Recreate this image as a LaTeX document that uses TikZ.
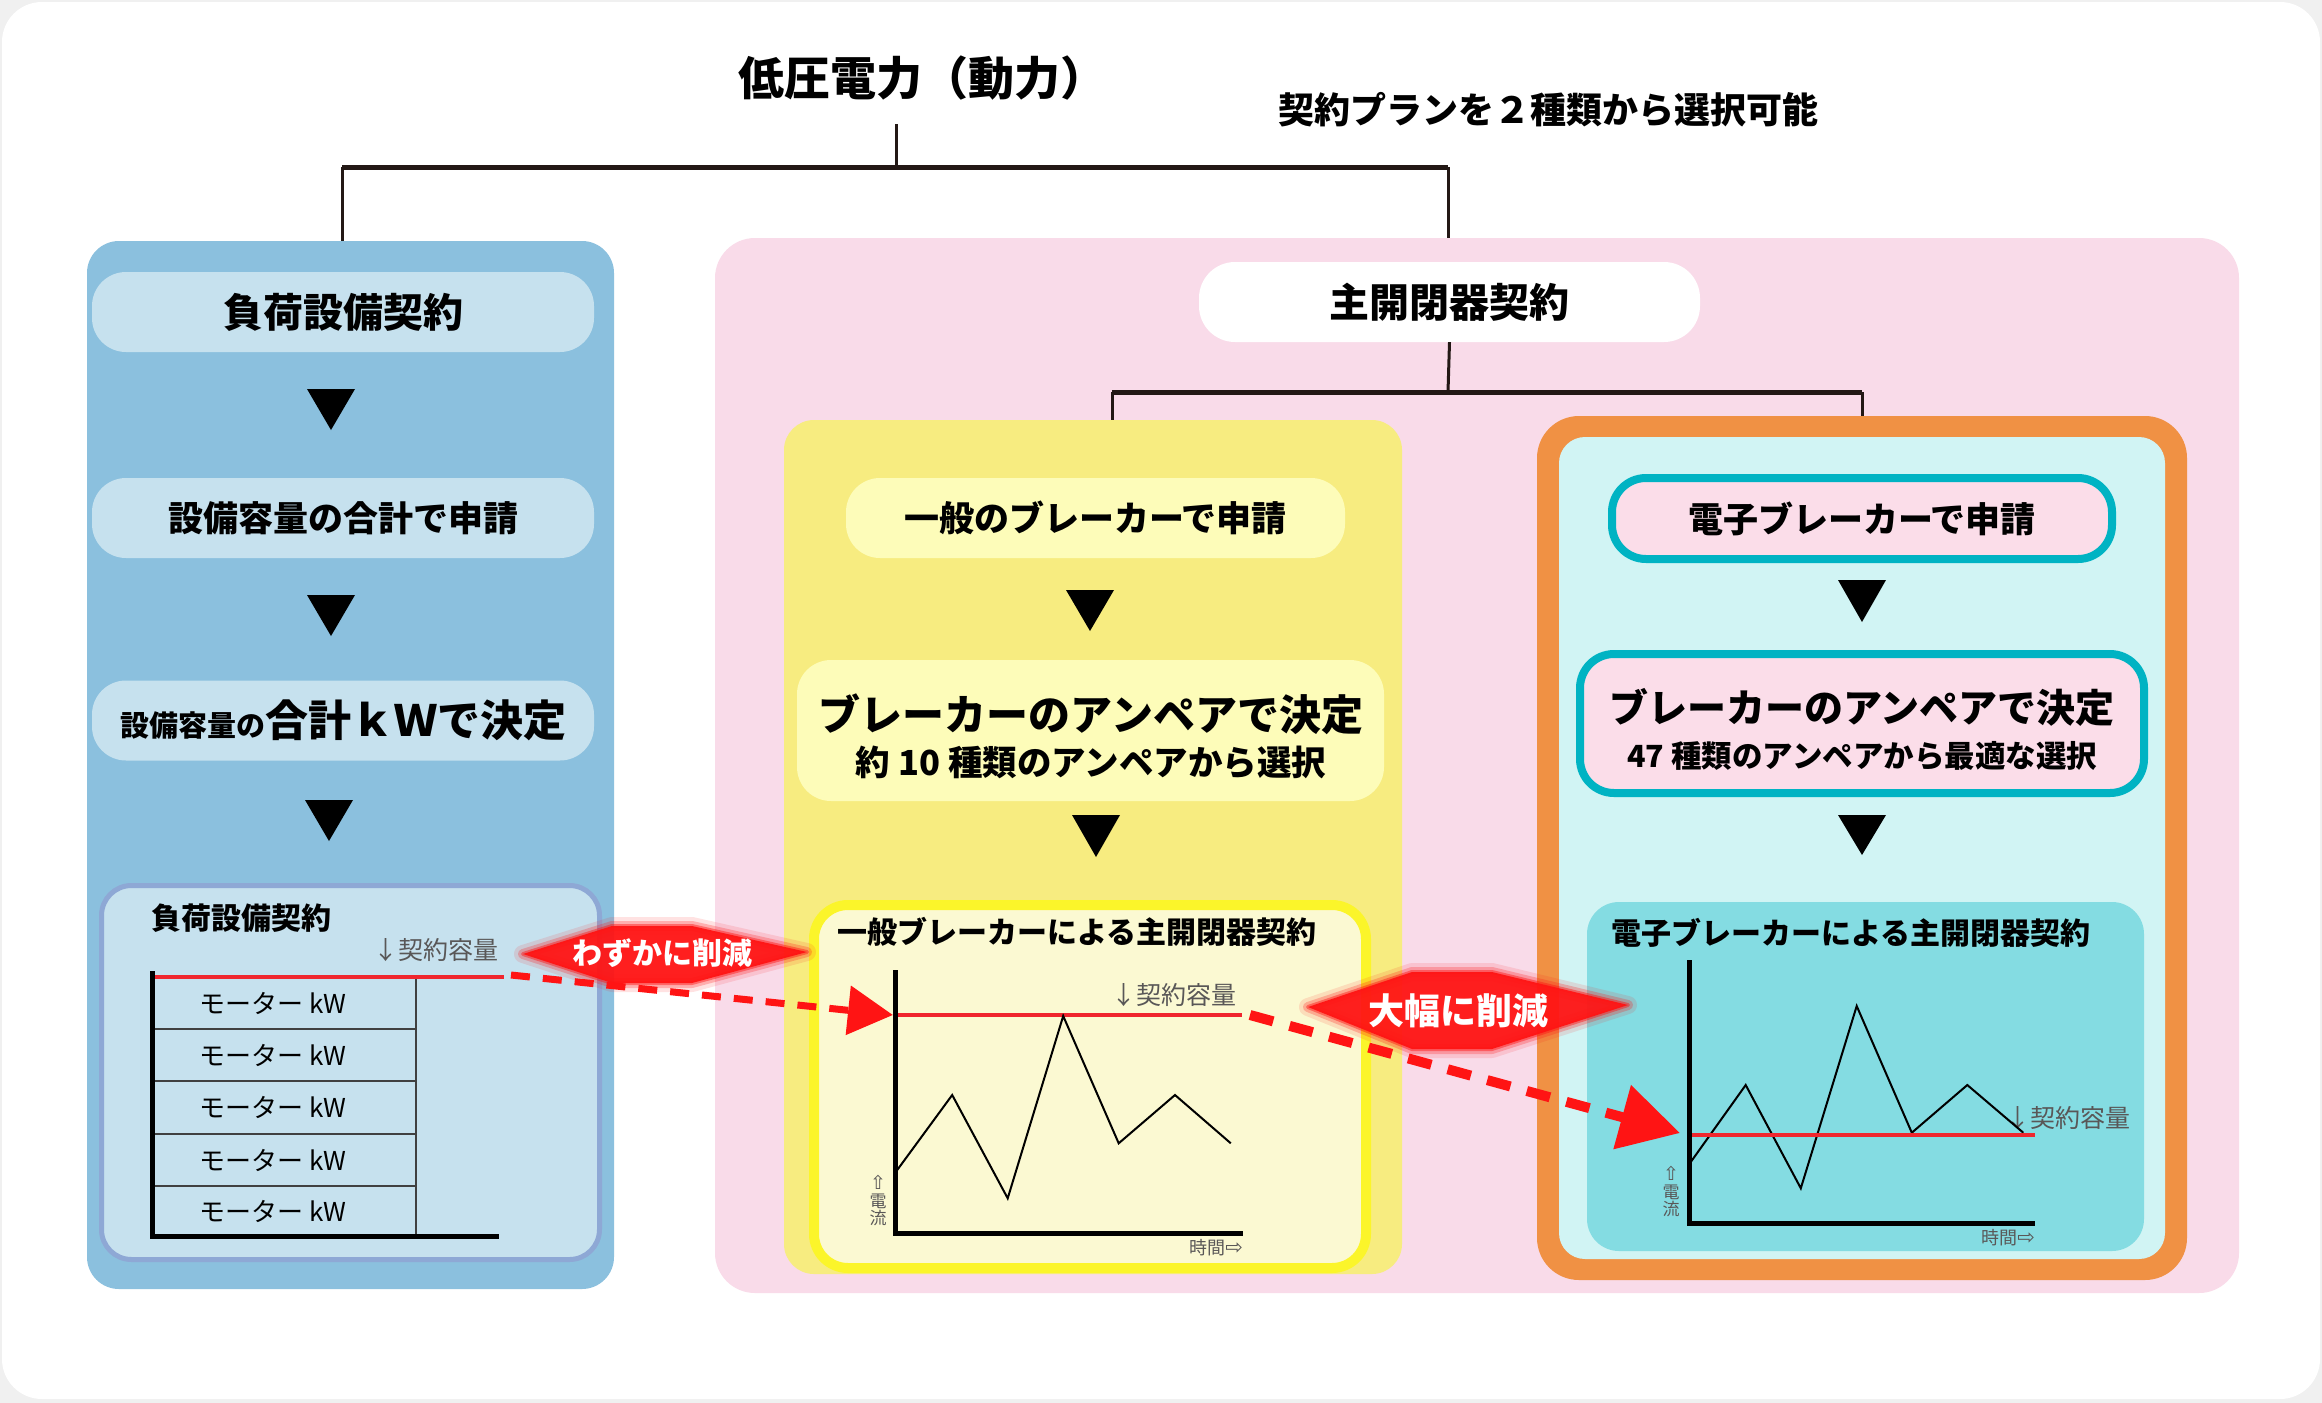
\documentclass[tikz,border=0pt]{standalone}
\usepackage{fontspec}
\setmainfont{Noto Sans CJK JP}
\newfontfamily\dvs{DejaVu Sans}
\usetikzlibrary{arrows.meta,calc}
\definecolor{treec}{HTML}{231815}
\definecolor{bluep}{HTML}{8BC0DE}
\definecolor{blueb}{HTML}{C6E1EE}
\definecolor{bluebd}{HTML}{8EA8D5}
\definecolor{pinkp}{HTML}{F9DBE9}
\definecolor{yelp}{HTML}{F7EC80}
\definecolor{yelb}{HTML}{FDFCB9}
\definecolor{yelbd}{HTML}{FBF52A}
\definecolor{yelc}{HTML}{FBF9D2}
\definecolor{orp}{HTML}{F09144}
\definecolor{cyp}{HTML}{D1F4F4}
\definecolor{tealbd}{HTML}{00B3C3}
\definecolor{pinkb}{HTML}{FBDDE9}
\definecolor{tealc}{HTML}{84DCE2}
\definecolor{redl}{HTML}{F0262E}
\definecolor{reda}{HTML}{FF1414}
\definecolor{grayt}{HTML}{595757}
\newcommand\myfs[1]{\fontsize{#1}{#1}\selectfont}
\begin{document}
\begin{tikzpicture}[x=1pt,y=-1pt,
  panel/.style={rectangle, inner sep=0pt, outer sep=0pt},
  box/.style={rectangle, inner sep=0pt, rounded corners=34pt, align=center},
  txt/.style={inner sep=0pt, outer sep=0pt},
  tline/.style={line width=3pt, draw=treec},
  tbar/.style={line width=5pt, draw=treec},
  capline/.style={line width=4pt, draw=redl},
  axisline/.style={line width=5pt, draw=black},
  zig/.style={line width=2pt, draw=black},
  tbl/.style={line width=1.5pt, draw=black!75},
  small/.style={txt, text=grayt, font=\myfs{25}},
  motor/.style={txt, font=\myfs{26}},
  ctitle/.style={txt, anchor=west, font=\bfseries\myfs{30}},
  hexA/.style={insert path={(523,954) -- (612,926) -- (692,926) -- (807,952) -- (692,983) -- (612,983) -- cycle}},
  hexB/.style={insert path={(1308,1007) -- (1412,972) -- (1492,972) -- (1628,1005) -- (1492,1049) -- (1412,1049) -- cycle}},
]
\useasboundingbox (0,0) rectangle (2322,1403);
\fill[black!6] (0,0) rectangle (2322,1403);
\fill[white, rounded corners=40pt] (2,2) rectangle (2320,1399);

% ---------- title and top tree
\node[txt, font=\bfseries\myfs{46}] (title) at (922,78) {低圧電力（動力）};
\node[txt, font=\bfseries\myfs{36}] (sub) at (1548,110) {契約プランを２種類から選択可能};
\coordinate (t0) at (896,124);
\coordinate (tj) at (896,167);
\coordinate (tl) at (342,167);
\coordinate (tr) at (1448,167);

% ---------- panels
\node[panel, fill=bluep, rounded corners=32pt, minimum width=527pt, minimum height=1048pt] (bluepanel) at (350.5,765) {};
\node[panel, fill=pinkp, rounded corners=40pt, minimum width=1524pt, minimum height=1055pt] (pinkpanel) at (1477,765.5) {};

\draw[tline] (t0) -- (tj);
\draw[tbar] (tl) -- (tr);
\draw[tline] (tl) -- (bluepanel.north -| tl);
\draw[tline] (tr) -- (pinkpanel.north -| tr);

% ---------- blue column
\node[box, fill=blueb, minimum width=502pt, minimum height=80pt, font=\bfseries\myfs{40}] (b1) at (343,312) {負荷設備契約};
\fill (307,389) -- (355,389) -- (331,430) -- cycle;
\node[box, fill=blueb, minimum width=502pt, minimum height=80pt, font=\bfseries\myfs{35}] (b2) at (343,518) {設備容量の合計で申請};
\fill (307,595) -- (355,595) -- (331,636) -- cycle;
\node[box, fill=blueb, minimum width=502pt, minimum height=80pt] (b3) at (343,720.5) {{\bfseries\myfs{29}設備容量の}{\bfseries\myfs{43}合計ｋＷで決定}};
\fill (305,800) -- (353,800) -- (329,841) -- cycle;

\node[panel, fill=blueb, draw=bluebd, line width=5pt, rounded corners=30pt, minimum width=498pt, minimum height=374pt] (bchart) at (350.5,1072.5) {};
\node[ctitle] (bct) at (151,918) {負荷設備契約};
\node[small, anchor=east] (bcap) at (498,950) {↓契約容量};
\coordinate (bA) at (152,977);
\coordinate (bB) at (504,977);
\draw[tbl] (416,977) -- (416,1236);
\foreach \yy in {1029,1081,1134,1186} \draw[tbl] (152,\yy) -- (416,\yy);
\draw[capline] (bA) -- (bB);
\draw[axisline] (152,971) -- (152,1236) -- (499,1236);
\node[motor] (m1) at (273,1003) {モーター kW};
\node[motor] (m2) at (273,1055) {モーター kW};
\node[motor] (m3) at (273,1107) {モーター kW};
\node[motor] (m4) at (273,1160) {モーター kW};
\node[motor] (m5) at (273,1211) {モーター kW};

% ---------- main switch
\node[box, fill=white, rounded corners=36pt, minimum width=501pt, minimum height=80pt, font=\bfseries\myfs{40}] (msw) at (1449.5,302) {主開閉器契約};
\coordinate (sj) at (1448,392);
\coordinate (sl) at (1112,392);
\coordinate (sr) at (1862,392);

% ---------- yellow column
\node[panel, fill=yelp, rounded corners=30pt, minimum width=618pt, minimum height=854pt] (yelpanel) at (1093,847) {};
\node[box, fill=yelb, minimum width=499pt, minimum height=80pt, font=\bfseries\myfs{35}] (y1) at (1095.5,518) {一般のブレーカーで申請};
\fill (1066,590) -- (1114,590) -- (1090,631) -- cycle;
\node[box, fill=yelb, minimum width=587pt, minimum height=141pt] (y2) at (1090.5,730.5) {};
\node[txt, font=\bfseries\myfs{42}] (y2a) at (1091,714) {ブレーカーのアンペアで決定};
\node[txt, font=\bfseries\myfs{34.5}] (y2b) at (1091,762) {約 10 種類のアンペアから選択};
\fill (1072,815) -- (1120,815) -- (1096,857) -- cycle;

\node[panel, fill=yelc, draw=yelbd, line width=10pt, rounded corners=34pt, minimum width=552pt, minimum height=363pt] (ychart) at (1090,1086.5) {};
\node[ctitle] (yct) at (837,932) {一般ブレーカーによる主開閉器契約};
\node[small, anchor=east] (ycap) at (1236,995) {↓契約容量};
\coordinate (yA) at (893,1015);
\coordinate (yB) at (1242,1015);
\draw[capline] (yA) -- (yB);
\draw[zig] (894.8,1173.3) -- (952.2,1095) -- (1007.7,1198.3) -- (1063.2,1016) -- (1118.7,1143.3) -- (1175,1095) -- (1230.8,1143.3);
\draw[axisline] (895,970) -- (895,1233) -- (1243,1233);
\node[txt, text=grayt, align=center, font=\myfs{17}] (ycur) at (878,1200) {{\dvs\myfs{19}⇧}\\[1pt]電\\流};
\node[txt, text=grayt, anchor=east, font=\myfs{18}] (ytime) at (1243,1248) {時間{\dvs\myfs{21}⇨}};

% ---------- electronic column
\node[panel, fill=orp, rounded corners=42pt, minimum width=650pt, minimum height=864pt] (orpanel) at (1862,848) {};
\node[panel, fill=cyp, rounded corners=26pt, minimum width=606pt, minimum height=822pt] (cypanel) at (1862,848) {};
\node[box, fill=pinkb, draw=tealbd, line width=8pt, minimum width=500pt, minimum height=81pt, font=\bfseries\myfs{35}] (e1) at (1862,518.5) {電子ブレーカーで申請};
\fill (1838,580) -- (1886,580) -- (1862,622) -- cycle;
\node[box, fill=pinkb, draw=tealbd, line width=8pt, minimum width=564pt, minimum height=139pt] (e2) at (1862,723.5) {};
\node[txt, font=\bfseries\myfs{39}] (e2a) at (1862,707) {ブレーカーのアンペアで決定};
\node[txt, font=\bfseries\myfs{30.5}] (e2b) at (1862,756) {47 種類のアンペアから最適な選択};
\fill (1838,815) -- (1886,815) -- (1862,855) -- cycle;

\node[panel, fill=tealc, rounded corners=32pt, minimum width=557pt, minimum height=349pt] (echart) at (1865.5,1076.5) {};
\node[ctitle] (ect) at (1611,933) {電子ブレーカーによる主開閉器契約};
\node[small, anchor=west] (ecap) at (2005,1118) {↓契約容量};
\coordinate (eA) at (1687,1135);
\coordinate (eB) at (2035,1135);
\draw[zig] (1688.6,1165) -- (1745.7,1085) -- (1800.8,1188.3) -- (1856.7,1006) -- (1911.8,1132.7) -- (1967.3,1085) -- (2023.3,1132.7);
\draw[capline] (eA) -- (eB);
\draw[axisline] (1689,960) -- (1689,1223) -- (2035,1223);
\node[txt, text=grayt, align=center, font=\myfs{17}] (ecur) at (1671,1191) {{\dvs\myfs{19}⇧}\\[1pt]電\\流};
\node[txt, text=grayt, anchor=east, font=\myfs{18}] (etime) at (2035,1238) {時間{\dvs\myfs{21}⇨}};

% second tree
\draw[tline] (msw.south) -- (sj);
\draw[tbar] (sl) -- (sr);
\draw[tline] (sl) -- (yelpanel.north -| sl);
\draw[tline] (sr) -- (orpanel.north -| sr);

% ---------- reduction labels (blurred red hexagons)
\path[draw=reda, draw opacity=0.12, line width=18pt, line join=round, hexA];
\path[draw=reda, draw opacity=0.25, line width=10pt, line join=round, hexA];
\path[draw=reda, draw opacity=0.45, line width=4pt, line join=round, hexA];
\fill[reda, opacity=0.95, hexA];
\path[draw=reda, draw opacity=0.12, line width=18pt, line join=round, hexB];
\path[draw=reda, draw opacity=0.25, line width=10pt, line join=round, hexB];
\path[draw=reda, draw opacity=0.45, line width=4pt, line join=round, hexB];
\fill[reda, opacity=0.95, hexB];

% ---------- dashed red arrows
\coordinate (dA0) at (511,975);
\coordinate (dB0) at (1250,1015);
\coordinate (dB1) at (1680,1133);
\draw[reda, line width=7pt, dash pattern=on 19pt off 13pt, -{Triangle[length=45pt,width=48pt]}] (dA0) -- (yA);
\draw[reda, line width=10pt, dash pattern=on 24pt off 17pt, -{Triangle[length=60pt,width=64pt]}] (dB0) -- (dB1);

\node[txt, text=white, font=\bfseries\myfs{30}] (lblA) at (662,953) {わずかに削減};
\node[txt, text=white, font=\bfseries\myfs{36}] (lblB) at (1458,1011) {大幅に削減};
\end{tikzpicture}
\end{document}
